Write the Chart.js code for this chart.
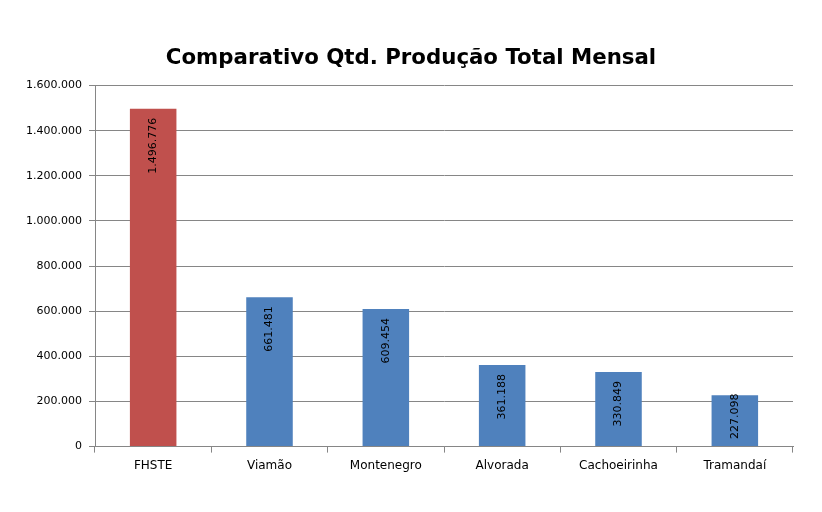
<!DOCTYPE html>
<html lang="pt">
<head>
    <meta charset="UTF-8">
    <title>Comparativo Qtd. Produção Total Mensal</title>
    <style>
        body { margin: 0; background: #fff; }
    </style>
</head>
<body>
    <canvas id="myChart" width="822" height="512"></canvas>

    <script src="https://cdn.jsdelivr.net/npm/chart.js@4.4.2/dist/chart.umd.min.js"></script>
    <script>
        var unidades = ['FHSTE', 'Viamão', 'Montenegro', 'Alvorada', 'Cachoeirinha', 'Tramandaí'];
        var producao = [1496776, 661481, 609454, 361188, 330849, 227098];
        var cores = ['#C0504D', '#4F81BD', '#4F81BD', '#4F81BD', '#4F81BD', '#4F81BD'];

        var fmt = function (v) {
            return Math.round(v).toString().replace(/\B(?=(\d{3})+(?!\d))/g, '.');
        };

        // rotated value labels inside the bar top (Excel style)
        var rotuloBarras = {
            id: 'rotuloBarras',
            afterDatasetsDraw: function (chart) {
                var c = chart.ctx;
                var meta = chart.getDatasetMeta(0);
                c.save();
                c.font = '11px "DejaVu Sans"';
                c.fillStyle = '#000';
                c.textAlign = 'right';
                c.textBaseline = 'middle';
                meta.data.forEach(function (bar, i) {
                    var txt = fmt(producao[i]);
                    var w = c.measureText(txt).width;
                    var topo = bar.y + 9;
                    if (topo + w > bar.base - 7) topo = bar.base - 7 - w;
                    c.save();
                    c.translate(bar.x, topo);
                    c.rotate(-Math.PI / 2);
                    c.fillText(txt, 0, 0);
                    c.restore();
                });
                c.restore();
            }
        };

        new Chart(document.getElementById('myChart'), {
            type: 'bar',
            data: {
                labels: unidades,
                datasets: [{
                    data: producao,
                    backgroundColor: cores,
                    barPercentage: 0.8,
                    categoryPercentage: 0.5
                }]
            },
            plugins: [rotuloBarras],
            options: {
                responsive: false,
                animation: false,
                layout: { padding: { left: 10, right: 10, top: 46, bottom: 33 } },
                scales: {
                    x: {
                        grid: {
                            offset: true,
                            drawOnChartArea: false,
                            tickLength: 6,
                            color: '#868686'
                        },
                        border: { color: '#868686' },
                        ticks: { color: '#000', font: { family: 'DejaVu Sans', size: 12 }, padding: 6 }
                    },
                    y: {
                        min: 0,
                        max: 1600000,
                        afterFit: function (scale) { scale.width = 85; },
                        ticks: {
                            stepSize: 200000,
                            color: '#000',
                            font: { family: 'DejaVu Sans', size: 11 },
                            padding: 7,
                            callback: function (v) { return fmt(v); }
                        },
                        grid: { color: '#868686', tickLength: 6 },
                        border: { color: '#868686' }
                    },
                    // empty right axis, only to keep the plot off the right edge
                    y2: {
                        position: 'right',
                        afterFit: function (scale) { scale.width = 19; },
                        ticks: { display: false },
                        grid: { display: false },
                        border: { display: false }
                    }
                },
                plugins: {
                    legend: { display: false },
                    tooltip: { enabled: false },
                    title: {
                        display: true,
                        text: 'Comparativo Qtd. Produção Total Mensal',
                        color: '#000',
                        font: { family: 'DejaVu Sans', size: 21.3, weight: 'bold' },
                        padding: { top: 0, bottom: 14 }
                    }
                }
            }
        });
    </script>
</body>
</html>
